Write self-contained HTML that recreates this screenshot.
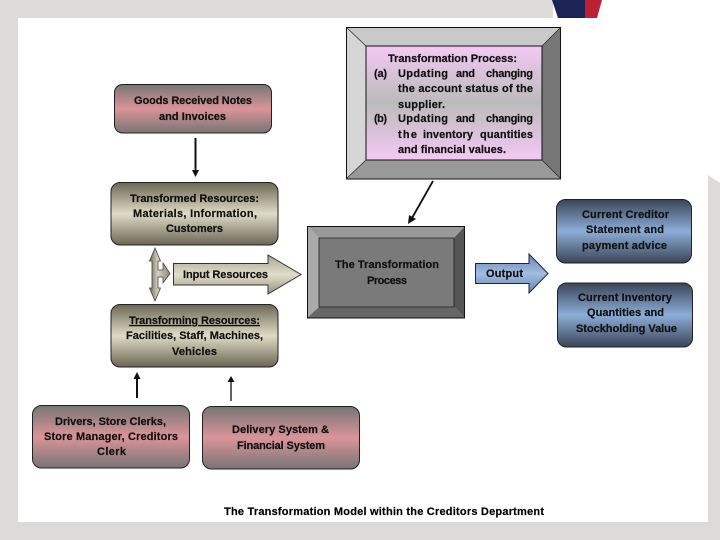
<!DOCTYPE html>
<html><head><meta charset="utf-8"><style>html,body{margin:0;padding:0;background:#fff}svg{display:block}text{font-family:"Liberation Sans",sans-serif;font-weight:bold;font-size:11px;fill:#111;stroke:#111;stroke-width:.2}</style></head><body>
<svg width="720" height="540" viewBox="0 0 720 540" xmlns="http://www.w3.org/2000/svg">
<defs>
<linearGradient id="pink" x1="0" y1="0" x2="0" y2="1"><stop offset="0" stop-color="#777575"/><stop offset=".5" stop-color="#db9499"/><stop offset="1" stop-color="#777575"/></linearGradient>
<linearGradient id="tan" x1="0" y1="0" x2="0" y2="1"><stop offset="0" stop-color="#6b6755"/><stop offset=".5" stop-color="#dedbc6"/><stop offset="1" stop-color="#6b6755"/></linearGradient>
<linearGradient id="blue" x1="0" y1="0" x2="0" y2="1"><stop offset="0" stop-color="#3a4556"/><stop offset=".5" stop-color="#8dadd9"/><stop offset="1" stop-color="#3a4556"/></linearGradient>
<linearGradient id="lilac" x1="0" y1="0" x2="0" y2="1"><stop offset="0" stop-color="#f4c9f4"/><stop offset=".5" stop-color="#bbbbbb"/><stop offset="1" stop-color="#f4c9f4"/></linearGradient>
<linearGradient id="atan" x1="0" y1="0" x2="0" y2="1"><stop offset="0" stop-color="#a8a58f"/><stop offset=".5" stop-color="#e0decb"/><stop offset="1" stop-color="#989580"/></linearGradient>
<linearGradient id="updown" x1="0" y1="0" x2="1" y2="0"><stop offset="0" stop-color="#6b6856"/><stop offset=".4" stop-color="#d4d2bd"/><stop offset="1" stop-color="#8a8772"/></linearGradient>
<linearGradient id="ablue" x1="0" y1="0" x2="0" y2="1"><stop offset="0" stop-color="#6585b5"/><stop offset=".5" stop-color="#a3bcdf"/><stop offset="1" stop-color="#6585b5"/></linearGradient>
</defs>
<rect width="720" height="540" fill="#fff"/>
<rect x="0" y="0" width="553" height="18" fill="#dcdbd9"/>
<rect x="0" y="0" width="18" height="540" fill="#dcdbd9"/>
<rect x="0" y="522" width="720" height="18" fill="#dcdbd9"/>
<polygon points="708,175 720,183 720,540 708,540" fill="#dcdbd9"/>
<polygon points="552,0 585,0 585,18 558,18" fill="#1c2355"/>
<polygon points="585,0 602,0 597,18 585,18" fill="#bd2033"/>

<!-- Transformation Process panel -->
<polygon points="346,27 561,27 542,46 366,46" fill="#c9c9c9"/>
<polygon points="346,27 366,46 366,160 346,179" fill="#d6d6d6"/>
<polygon points="561,27 561,179 542,160 542,46" fill="#777"/>
<polygon points="346,179 366,160 542,160 561,179" fill="#999"/>
<rect x="366" y="46" width="176" height="114" fill="url(#lilac)" stroke="#111"/>
<rect x="346.500" y="27.500" width="214" height="151.500" fill="none" stroke="#111"/>
<path d="M346 27L366 46M561 27L542 46M346 179L366 160M561 179L542 160" stroke="#222" stroke-width=".7"/>
<text x="388" y="62" textLength="129">Transformation Process:</text>
<text x="374" y="77" textLength="13">(a)</text><text x="398" y="77" textLength="50">Updating</text><text x="456" y="77" textLength="19">and</text><text x="486" y="77" textLength="47">changing</text>
<text x="398" y="92" textLength="135">the account status of the</text>
<text x="398" y="108" textLength="47">supplier.</text>
<text x="374" y="122" textLength="13">(b)</text><text x="398" y="122" textLength="50">Updating</text><text x="456" y="122" textLength="19">and</text><text x="486" y="122" textLength="47">changing</text>
<text x="398" y="138" textLength="19">the</text><text x="423" y="138" textLength="50">inventory</text><text x="480" y="138" textLength="53">quantities</text>
<text x="398" y="153" textLength="108">and financial values.</text>

<!-- Goods -->
<rect x="114.500" y="84.500" width="157" height="48.500" rx="8" fill="url(#pink)" stroke="#222"/>
<text x="134" y="104" textLength="118">Goods Received Notes</text>
<text x="159" y="120" textLength="67">and Invoices</text>
<path d="M195.500 138V171" stroke="#111" stroke-width="2"/><polygon points="192,170 199,170 195.500,177" fill="#111"/>

<!-- Transformed -->
<rect x="111" y="182.500" width="167" height="62.500" rx="9" fill="url(#tan)" stroke="#222"/>
<text x="130" y="202" textLength="129">Transformed Resources:</text>
<text x="133" y="217" textLength="124">Materials, Information,</text>
<text x="166" y="232" textLength="57">Customers</text>

<!-- Up-down arrow -->
<polygon points="155,248 160.500,261 158,261 158,270 163,270 163,263 170,273.500 163,283 163,277 158,277 158,288 160.500,288 155,301 149.500,288 152,288 152,261 149.500,261" fill="url(#updown)" stroke="#444" stroke-width=".8"/>
<!-- Input arrow -->
<polygon points="173.500,263.500 268,263.500 268,255 301,274.500 268,294 268,285 173.500,285" fill="url(#atan)" stroke="#333"/>
<text x="183" y="278" textLength="85">Input Resources</text>

<!-- Transforming -->
<rect x="111" y="304.500" width="167" height="62.500" rx="9" fill="url(#tan)" stroke="#222"/>
<text x="129" y="324" textLength="131" text-decoration="underline">Transforming Resources:</text>
<text x="126" y="339" textLength="137">Facilities, Staff, Machines,</text>
<text x="172" y="355" textLength="45">Vehicles</text>

<!-- Transformation process block -->
<polygon points="307,226 465,226 454,238 319,238" fill="#999"/>
<polygon points="307,226 319,238 319,307 307,318" fill="#aaa"/>
<polygon points="465,226 465,318 454,307 454,238" fill="#555"/>
<polygon points="307,318 319,307 454,307 465,318" fill="#666"/>
<rect x="319" y="238" width="135" height="69" fill="#7a7a7a"/>
<rect x="307.500" y="226.500" width="157" height="91.500" fill="none" stroke="#111"/>
<path d="M319 238H454V307H319Z" fill="none" stroke="#222" stroke-width=".8"/>
<text x="335" y="268" textLength="104">The Transformation</text>
<text x="367" y="284" textLength="40">Process</text>
<path d="M433 181L412 218" stroke="#111" stroke-width="1.800"/><polygon points="408,224 409,215 416,219" fill="#111"/>

<!-- Output arrow -->
<polygon points="475.500,263.500 529,263.500 529,254 548,273.500 529,293 529,283.500 475.500,283.500" fill="url(#ablue)" stroke="#223"/>
<text x="486" y="277" textLength="37">Output</text>

<!-- Blue boxes -->
<rect x="556.500" y="199.500" width="135" height="63.500" rx="9" fill="url(#blue)" stroke="#222"/>
<text x="582" y="218" textLength="87">Current Creditor</text>
<text x="586" y="233" textLength="78">Statement and</text>
<text x="582" y="249" textLength="85">payment advice</text>
<rect x="557.500" y="283" width="135" height="64" rx="9" fill="url(#blue)" stroke="#222"/>
<text x="578" y="301" textLength="94">Current Inventory</text>
<text x="587" y="316" textLength="77">Quantities and</text>
<text x="576" y="332" textLength="101">Stockholding Value</text>

<!-- Arrows up -->
<path d="M137 398V378" stroke="#111" stroke-width="2"/><polygon points="133.500,379 140.500,379 137,372" fill="#111"/>
<path d="M231 401V382" stroke="#111" stroke-width="1.300"/><polygon points="227.500,382 234.500,382 231,376" fill="#111"/>

<!-- Bottom boxes -->
<rect x="32.500" y="405.500" width="157" height="62.500" rx="9" fill="url(#pink)" stroke="#222"/>
<text x="55" y="425" textLength="111">Drivers, Store Clerks,</text>
<text x="44" y="440" textLength="134">Store Manager, Creditors</text>
<text x="97" y="455" textLength="29">Clerk</text>
<rect x="202.500" y="406.500" width="157" height="62.500" rx="9" fill="url(#pink)" stroke="#222"/>
<text x="232" y="433" textLength="97">Delivery System &amp;</text>
<text x="237" y="449" textLength="88">Financial System</text>

<text x="224" y="515" textLength="320" style="fill:#000">The Transformation Model within the Creditors Department</text>
</svg>
</body></html>
